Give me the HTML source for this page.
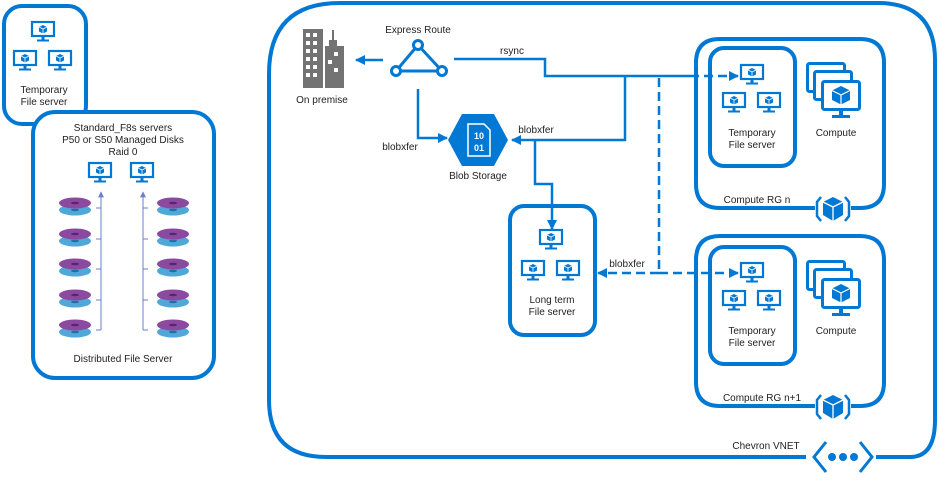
<!DOCTYPE html>
<html><head><meta charset="utf-8"><style>
html,body{margin:0;padding:0;background:#fff;}
svg{display:block;}
text{font-family:"Liberation Sans",sans-serif;font-size:10px;fill:#222;text-anchor:middle;}
</style></head><body>
<svg width="939" height="488" viewBox="0 0 939 488" xmlns="http://www.w3.org/2000/svg">
<defs>
<symbol id="mon" viewBox="0 0 24 22" overflow="visible">
<rect x="1" y="1" width="22" height="14" fill="#fff" stroke="#0078d4" stroke-width="2.2"/>
<rect x="10.5" y="15" width="3" height="4" fill="#0078d4"/>
<rect x="6" y="18.5" width="12" height="2" fill="#0078d4"/>
<path d="M12 4 L16 6 L16 10.5 L12 12.5 L8 10.5 L8 6 Z" fill="#0078d4"/>
<path d="M8 6 L12 8 L16 6 M12 8 L12 12.5" stroke="#fff" stroke-width="0.8" fill="none"/>
</symbol>
<symbol id="cmon" viewBox="0 0 40 40" overflow="visible">
<rect x="1.5" y="1.5" width="37" height="28" rx="2" fill="#fff" stroke="#0078d4" stroke-width="3"/>
<rect x="18" y="30" width="4" height="6" fill="#0078d4"/>
<rect x="11" y="35" width="18" height="3" fill="#0078d4"/>
</symbol>
<symbol id="rg" viewBox="0 0 36 30" overflow="visible">
<path d="M6 3 L2 8 L2 22 L6 27" stroke="#0078d4" stroke-width="2.5" fill="none"/>
<path d="M30 3 L34 8 L34 22 L30 27" stroke="#0078d4" stroke-width="2.5" fill="none"/>
<path d="M18 3 L28 8 L28 21 L18 27 L8 21 L8 8 Z" fill="#0078d4"/>
<path d="M8 8 L18 13 L28 8 M18 13 L18 27" stroke="#fff" stroke-width="1.3" fill="none"/>
</symbol>
<symbol id="disk" viewBox="0 0 34 20" overflow="visible">
<ellipse cx="17" cy="13" rx="16" ry="5.5" fill="#4fa8d8"/>
<ellipse cx="17" cy="13" rx="4" ry="1.2" fill="#1f6fa8"/>
<ellipse cx="17" cy="6" rx="16" ry="5.5" fill="#8b4a9f"/>
<ellipse cx="17" cy="6" rx="4" ry="1.2" fill="#5a2470"/>
</symbol>
<marker id="ar" viewBox="0 0 10 10" refX="9" refY="5" markerWidth="4" markerHeight="4" orient="auto"><path d="M0 0 L10 5 L0 10 Z" fill="#0078d4"/></marker>
<marker id="ar2" viewBox="0 0 10 10" refX="9" refY="5" markerWidth="6" markerHeight="6" orient="auto"><path d="M0 0 L10 5 L0 10 Z" fill="#6a7fd0"/></marker>
</defs>

<g fill="none" stroke="#0078d4" stroke-width="4">
<rect x="4" y="6" width="82" height="118" rx="18"/>
<rect x="33" y="112" width="181" height="266" rx="22" fill="#fff"/>
<path d="M876 457 L910 457 Q935 457 935 420 L935 60 Q935 3 878 3 L340 3 Q269 3 269 74 L269 400 Q269 457 326 457 L806 457"/>
<path d="M815 208 L720 208 Q696 208 696 184 L696 63 Q696 39 720 39 L860 39 Q884 39 884 63 L884 184 Q884 208 860 208 L851 208"/>
<rect x="710" y="48" width="85" height="118" rx="14"/>
<path d="M815 406 L720 406 Q696 406 696 382 L696 260 Q696 236 720 236 L860 236 Q884 236 884 260 L884 382 Q884 406 860 406 L851 406"/>
<rect x="710" y="247" width="85" height="117" rx="14"/>
<rect x="510" y="206" width="85" height="129" rx="14"/>
</g>

<use href="#mon" x="31" y="21" width="24" height="22"/>
<use href="#mon" x="13" y="50" width="24" height="22"/>
<use href="#mon" x="48" y="50" width="24" height="22"/>
<text x="44" y="93">Temporary</text><text x="44" y="105">File server</text>

<text x="123" y="131">Standard_F8s servers</text>
<text x="123" y="143">P50 or S50 Managed Disks</text>
<text x="123" y="155">Raid 0</text>
<use href="#mon" x="88" y="162" width="24" height="22"/>
<use href="#mon" x="130" y="162" width="24" height="22"/>
<g stroke="#6a7fd0" stroke-width="1">
<line x1="101" y1="330" x2="101" y2="192" marker-end="url(#ar2)"/>
<line x1="143" y1="330" x2="143" y2="192" marker-end="url(#ar2)"/>
<line x1="96" y1="208" x2="101" y2="208"/><line x1="96" y1="239" x2="101" y2="239"/><line x1="96" y1="269" x2="101" y2="269"/><line x1="96" y1="300" x2="101" y2="300"/><line x1="96" y1="330" x2="101" y2="330"/>
<line x1="143" y1="208" x2="148" y2="208"/><line x1="143" y1="239" x2="148" y2="239"/><line x1="143" y1="269" x2="148" y2="269"/><line x1="143" y1="300" x2="148" y2="300"/><line x1="143" y1="330" x2="148" y2="330"/>
</g>
<use href="#disk" x="58" y="197" width="34" height="20"/><use href="#disk" x="58" y="228" width="34" height="20"/><use href="#disk" x="58" y="258" width="34" height="20"/><use href="#disk" x="58" y="289" width="34" height="20"/><use href="#disk" x="58" y="319" width="34" height="20"/>
<use href="#disk" x="156" y="197" width="34" height="20"/><use href="#disk" x="156" y="228" width="34" height="20"/><use href="#disk" x="156" y="258" width="34" height="20"/><use href="#disk" x="156" y="289" width="34" height="20"/><use href="#disk" x="156" y="319" width="34" height="20"/>
<text x="123" y="362">Distributed File Server</text>

<rect x="303" y="29" width="20" height="59" fill="#737373"/>
<path d="M325 88 L325 46 L329 46 L329 40 L332 40 L332 30 L334 30 L334 40 L337 40 L337 46 L344 46 L344 88 Z" fill="#737373"/>
<g fill="#fff">
<rect x="306" y="33" width="4" height="4"/><rect x="313" y="33" width="4" height="4"/>
<rect x="306" y="41" width="4" height="4"/><rect x="313" y="41" width="4" height="4"/>
<rect x="306" y="49" width="4" height="4"/><rect x="313" y="49" width="4" height="4"/>
<rect x="306" y="57" width="4" height="4"/><rect x="313" y="57" width="4" height="4"/>
<rect x="306" y="65" width="4" height="4"/><rect x="313" y="65" width="4" height="4"/>
<rect x="306" y="73" width="4" height="4"/><rect x="313" y="73" width="4" height="4"/>
<rect x="334" y="52" width="4" height="4"/><rect x="328" y="60" width="4" height="4"/><rect x="334" y="68" width="4" height="4"/>
</g>
<text x="322" y="103">On premise</text>

<text x="418" y="33">Express Route</text>
<path d="M418 45 L396 71 L442 71 Z" fill="none" stroke="#0078d4" stroke-width="3"/>
<circle cx="418" cy="45" r="4.5" fill="#fff" stroke="#0078d4" stroke-width="3"/>
<circle cx="396" cy="71" r="4.5" fill="#fff" stroke="#0078d4" stroke-width="3"/>
<circle cx="442" cy="71" r="4.5" fill="#fff" stroke="#0078d4" stroke-width="3"/>

<path d="M462 114 L494 114 L508 140 L494 166 L462 166 L448 140 Z" fill="#0078d4"/>
<path d="M468 124 L484 124 L490 130 L490 156 L468 156 Z" fill="none" stroke="#fff" stroke-width="1.5"/>
<text x="479" y="139" style="fill:#fff;font-weight:bold;font-size:9px">10</text>
<text x="479" y="151" style="fill:#fff;font-weight:bold;font-size:9px">01</text>
<text x="478" y="179">Blob Storage</text>

<g fill="none" stroke="#0078d4" stroke-width="2.5">
<line x1="383" y1="60" x2="356" y2="60" marker-end="url(#ar)"/>
<path d="M454 59 L545 59 L545 76 L690 76"/>
<path d="M690 76 L738 76" stroke-dasharray="9 5" marker-end="url(#ar)"/>
<path d="M625 76 L625 140 L512 140" marker-end="url(#ar)"/>
<path d="M418 89 L418 138 L447 138" marker-end="url(#ar)"/>
<path d="M535 140 L535 184 L552 184 L552 229" marker-end="url(#ar)"/>
<path d="M659 78 L659 273" stroke-dasharray="9 5"/>
<path d="M659 273 L598 273" stroke-dasharray="9 5" marker-end="url(#ar)"/>
<path d="M659 273 L738 273" stroke-dasharray="9 5" marker-end="url(#ar)"/>
</g>
<text x="512" y="54">rsync</text>
<text x="400" y="150">blobxfer</text>
<text x="536" y="133">blobxfer</text>
<text x="627" y="267">blobxfer</text>

<use href="#mon" x="539" y="229" width="24" height="22"/>
<use href="#mon" x="521" y="260" width="24" height="22"/>
<use href="#mon" x="556" y="260" width="24" height="22"/>
<text x="552" y="303">Long term</text><text x="552" y="315">File server</text>

<use href="#mon" x="740" y="64" width="24" height="22"/>
<use href="#mon" x="722" y="92" width="24" height="22"/>
<use href="#mon" x="757" y="92" width="24" height="22"/>
<text x="752" y="136">Temporary</text><text x="752" y="148">File server</text>
<use href="#cmon" x="806" y="62" width="40" height="40"/>
<use href="#cmon" x="813" y="70" width="40" height="40"/>
<use href="#cmon" x="821" y="80" width="40" height="40"/>
<path d="M841 86 L850 90.5 L850 100 L841 104.5 L832 100 L832 90.5 Z" fill="#0078d4"/>
<path d="M832 90.5 L841 95 L850 90.5 M841 95 L841 104.5" stroke="#fff" stroke-width="1.2" fill="none"/>
<text x="836" y="136">Compute</text>
<text x="757" y="203">Compute RG n</text>
<use href="#rg" x="815" y="194" width="36" height="30"/>

<use href="#mon" x="740" y="262" width="24" height="22"/>
<use href="#mon" x="722" y="290" width="24" height="22"/>
<use href="#mon" x="757" y="290" width="24" height="22"/>
<text x="752" y="334">Temporary</text><text x="752" y="346">File server</text>
<use href="#cmon" x="806" y="260" width="40" height="40"/>
<use href="#cmon" x="813" y="268" width="40" height="40"/>
<use href="#cmon" x="821" y="278" width="40" height="40"/>
<path d="M841 284 L850 288.5 L850 298 L841 302.5 L832 298 L832 288.5 Z" fill="#0078d4"/>
<path d="M832 288.5 L841 293 L850 288.5 M841 293 L841 302.5" stroke="#fff" stroke-width="1.2" fill="none"/>
<text x="836" y="334">Compute</text>
<text x="762" y="401">Compute RG n+1</text>
<use href="#rg" x="815" y="392" width="36" height="30"/>

<text x="766" y="449">Chevron VNET</text>
<path d="M826 442 L814 457 L826 472 M860 442 L872 457 L860 472" fill="none" stroke="#0078d4" stroke-width="3"/>
<circle cx="832" cy="457" r="4" fill="#0078d4"/><circle cx="843" cy="457" r="4" fill="#0078d4"/><circle cx="854" cy="457" r="4" fill="#0078d4"/>
</svg>
</body></html>
